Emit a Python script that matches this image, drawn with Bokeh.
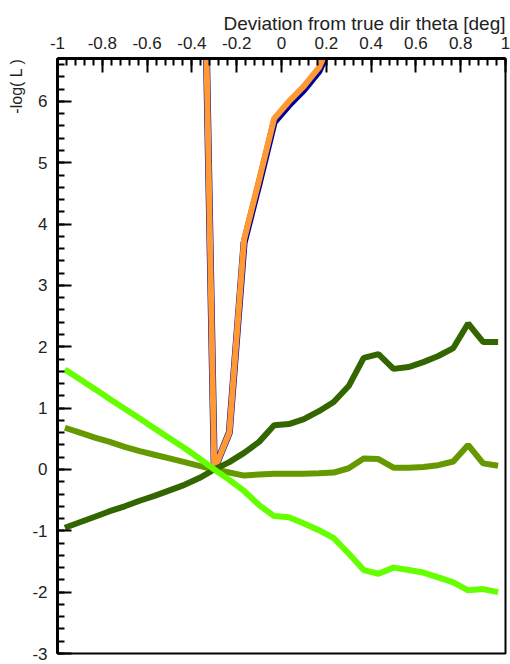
import numpy as np
from bokeh.plotting import figure
from bokeh.models import Range1d, FixedTicker, Title, CustomJSTickFormatter
from bokeh.embed import file_html
from bokeh.resources import INLINE

# bin centres of the scan in theta deviation [deg]
theta = [-0.967, -0.900, -0.833, -0.767, -0.700, -0.633, -0.567, -0.500, -0.433, -0.367,
         -0.300, -0.233, -0.167, -0.100, -0.033, 0.033, 0.100, 0.167, 0.233, 0.300,
         0.367, 0.433, 0.500, 0.567, 0.633, 0.700, 0.767, 0.833, 0.900, 0.967]

dark_green = [-0.95, -0.86, -0.77, -0.68, -0.60, -0.51, -0.43, -0.34, -0.25, -0.14,
              0.00, 0.12, 0.27, 0.45, 0.72, 0.74, 0.82, 0.95, 1.10, 1.36,
              1.82, 1.88, 1.64, 1.67, 1.75, 1.85, 1.98, 2.38, 2.08, 2.08]

olive_green = [0.68, 0.60, 0.52, 0.45, 0.37, 0.30, 0.24, 0.18, 0.12, 0.06,
               0.00, -0.05, -0.10, -0.08, -0.07, -0.07, -0.07, -0.06, -0.05, 0.02,
               0.18, 0.17, 0.03, 0.03, 0.04, 0.07, 0.13, 0.40, 0.10, 0.06]

bright_green = [1.63, 1.47, 1.31, 1.15, 0.99, 0.83, 0.67, 0.51, 0.35, 0.18,
                0.00, -0.17, -0.35, -0.58, -0.76, -0.78, -0.88, -0.99, -1.12, -1.37,
                -1.64, -1.70, -1.60, -1.64, -1.68, -1.76, -1.84, -1.97, -1.95, -2.00]

theta_steep = [-0.367, -0.300, -0.233, -0.167, -0.100, -0.033, 0.033, 0.100, 0.167, 0.233]
blue_curve = [13.0, 0.0, 0.60, 3.70, 4.66, 5.66, 5.94, 6.19, 6.49, 7.04]
orange_curve = [13.0, 0.0, 0.60, 3.75, 4.72, 5.72, 6.00, 6.25, 6.55, 7.10]

x_major = [-1, -0.8, -0.6, -0.4, -0.2, 0, 0.2, 0.4, 0.6, 0.8, 1]
y_major = [-3, -2, -1, 0, 1, 2, 3, 4, 5, 6]

FONT = "Liberation Sans"

p = figure(width=510, height=664, output_backend="svg", toolbar_location=None,
           x_range=Range1d(-1, 1), y_range=Range1d(-3, 6.7),
           x_axis_location="above", min_border_left=57, min_border_top=58,
           min_border_right=5, min_border_bottom=11)

p.title.text = "Deviation from true dir theta [deg]"
p.title.align = "right"
p.title.text_font = FONT
p.title.text_font_size = "19px"
p.title.text_font_style = "normal"
p.title.text_color = "#222222"
p.title.standoff = 0

p.add_layout(Title(text="-log( L )", align="right", offset=0, text_font=FONT,
                   text_font_size="16px", text_font_style="normal",
                   text_color="#222222"), "left")

p.xgrid.visible = False
p.ygrid.visible = False
p.outline_line_color = "black"
p.outline_line_width = 2
p.background_fill_color = "white"
p.border_fill_color = "white"

x_minor = [round(-1 + 0.04 * i, 2) for i in range(51)]
y_minor = [round(-3 + 0.2 * i, 1) for i in range(49)]

xa = p.xaxis[0]
xa.ticker = FixedTicker(ticks=x_major, minor_ticks=x_minor)
ya = p.yaxis[0]
ya.ticker = FixedTicker(ticks=y_major, minor_ticks=y_minor)

fmt = CustomJSTickFormatter(code="return (Math.round(tick*10)/10).toString();")
for ax in (xa, ya):
    ax.formatter = fmt
    ax.axis_line_width = 3
    ax.axis_line_color = "black"
    ax.major_tick_in = 14
    ax.major_tick_out = 0
    ax.minor_tick_in = 7
    ax.minor_tick_out = 0
    ax.major_tick_line_width = 2
    ax.minor_tick_line_width = 2
    ax.major_label_text_font = FONT
    ax.major_label_text_font_size = "17px"
    ax.major_label_text_color = "#222222"
    ax.major_label_standoff = 10

p.line(theta_steep, blue_curve, line_color="#000099", line_width=7)
p.line(theta_steep, orange_curve, line_color="#ff9933", line_width=6)
p.line(theta, olive_green, line_color="#669900", line_width=6)
p.line(theta, dark_green, line_color="#336600", line_width=6)
p.line(theta, bright_green, line_color="#66ff00", line_width=6)

open("out.html", "w").write(file_html(p, INLINE))
